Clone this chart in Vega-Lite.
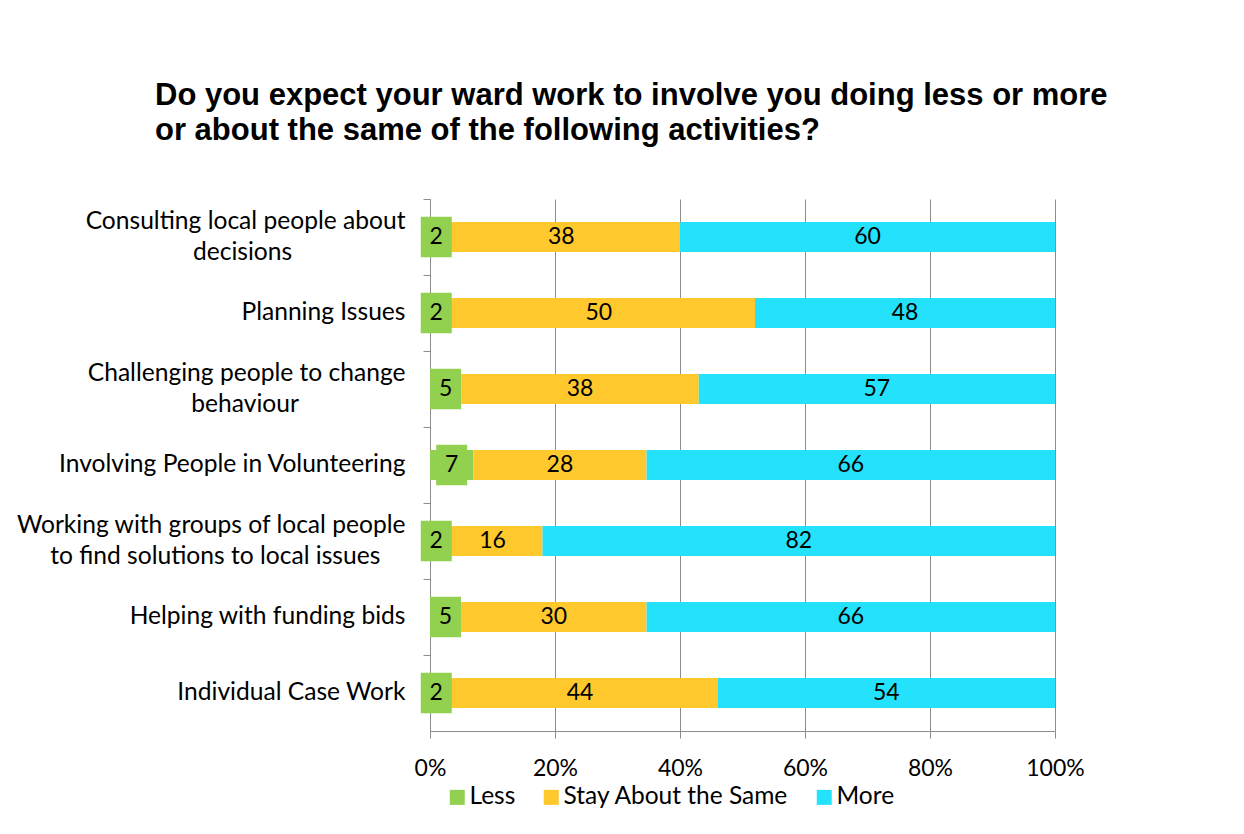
{
  "$schema": "https://vega.github.io/schema/vega-lite/v6.json",
  "width": 625,
  "height": 532,
  "autosize": {"type": "none"},
  "padding": {"left": 430, "top": 199, "right": 189, "bottom": 103},
  "background": "white",
  "title": {
    "text": ["Do you expect your ward work to involve you doing less or more", "or about the same of the following activities?"],
    "anchor": "start",
    "frame": "group",
    "dx": -275,
    "offset": 52,
    "font": "Liberation Sans",
    "fontSize": 31,
    "fontWeight": "bold",
    "lineHeight": 35,
    "color": "black"
  },
  "data": {
    "values": [
      {"activity": "Consulting local people about|decisions", "response": "Less", "order": 1, "value": 2},
      {"activity": "Consulting local people about|decisions", "response": "Stay About the Same", "order": 2, "value": 38},
      {"activity": "Consulting local people about|decisions", "response": "More", "order": 3, "value": 60},
      {"activity": "Planning Issues", "response": "Less", "order": 1, "value": 2},
      {"activity": "Planning Issues", "response": "Stay About the Same", "order": 2, "value": 50},
      {"activity": "Planning Issues", "response": "More", "order": 3, "value": 48},
      {"activity": "Challenging people to change|behaviour", "response": "Less", "order": 1, "value": 5},
      {"activity": "Challenging people to change|behaviour", "response": "Stay About the Same", "order": 2, "value": 38},
      {"activity": "Challenging people to change|behaviour", "response": "More", "order": 3, "value": 57},
      {"activity": "Involving People in Volunteering", "response": "Less", "order": 1, "value": 7},
      {"activity": "Involving People in Volunteering", "response": "Stay About the Same", "order": 2, "value": 28},
      {"activity": "Involving People in Volunteering", "response": "More", "order": 3, "value": 66},
      {"activity": "Working with groups of local people|to find solutions to local issues", "response": "Less", "order": 1, "value": 2},
      {"activity": "Working with groups of local people|to find solutions to local issues", "response": "Stay About the Same", "order": 2, "value": 16},
      {"activity": "Working with groups of local people|to find solutions to local issues", "response": "More", "order": 3, "value": 82},
      {"activity": "Helping with funding bids", "response": "Less", "order": 1, "value": 5},
      {"activity": "Helping with funding bids", "response": "Stay About the Same", "order": 2, "value": 30},
      {"activity": "Helping with funding bids", "response": "More", "order": 3, "value": 66},
      {"activity": "Individual Case Work", "response": "Less", "order": 1, "value": 2},
      {"activity": "Individual Case Work", "response": "Stay About the Same", "order": 2, "value": 44},
      {"activity": "Individual Case Work", "response": "More", "order": 3, "value": 54}
    ]
  },
  "transform": [
    {"stack": "value", "groupby": ["activity"], "sort": [{"field": "order", "order": "ascending"}], "offset": "normalize", "as": ["x0", "x1"]},
    {"calculate": "(datum.x0 + datum.x1) / 2", "as": "xm"}
  ],
  "encoding": {
    "y": {
      "field": "activity",
      "type": "nominal",
      "sort": [
        "Consulting local people about|decisions",
        "Planning Issues",
        "Challenging people to change|behaviour",
        "Involving People in Volunteering",
        "Working with groups of local people|to find solutions to local issues",
        "Helping with funding bids",
        "Individual Case Work"
      ],
      "scale": {"paddingInner": 0, "paddingOuter": 0},
      "axis": {
        "title": null,
        "labelExpr": "length(split(datum.label, '|')) > 1 ? [split(datum.label, '|')[0], pad(split(datum.label, '|')[1], length(split(datum.label, '|')[1]) + round(0.55 * ((length(split(datum.label, '|')[0]) + length(replace(split(datum.label, '|')[0], regexp('[ijlt f]', 'g'), ''))) - (length(split(datum.label, '|')[1]) + length(replace(split(datum.label, '|')[1], regexp('[ijlt f]', 'g'), ''))))), '\u00a0') + '\u200b'] : datum.label",
        "labelFont": "Lato",
        "labelFontSize": 24.6,
        "labelColor": "black",
        "labelLineHeight": 31,
        "labelPadding": 18,
        "labelLimit": 500,
        "labelOffset": {"condition": {"test": "indexof(datum.value, '|') >= 0", "value": -15}, "value": 0},
        "bandPosition": 0,
        "tickSize": 7,
        "tickColor": "#8c8c8c",
        "domainColor": "#8c8c8c",
        "grid": false
      }
    }
  },
  "layer": [
    {
      "mark": {"type": "bar", "height": {"band": 0.395}},
      "encoding": {
        "x": {
          "field": "x0",
          "type": "quantitative",
          "scale": {"domain": [0, 1], "nice": false},
          "axis": {
            "title": null,
            "format": ".0%",
            "values": [0, 0.2, 0.4, 0.6, 0.8, 1],
            "grid": true,
            "gridColor": "#8c8c8c",
            "domainColor": "#8c8c8c",
            "tickColor": "#8c8c8c",
            "tickSize": 7,
            "labelFont": "Lato",
            "labelFontSize": 23,
            "labelColor": "black",
            "labelPadding": 19,
            "labelFlush": false
          }
        },
        "x2": {"field": "x1"},
        "color": {
          "field": "response",
          "type": "nominal",
          "scale": {
            "domain": ["Less", "Stay About the Same", "More"],
            "range": ["#92d050", "#ffc82c", "#24e2fb"]
          },
          "legend": {
            "orient": "none",
            "direction": "horizontal",
            "legendX": 15,
            "legendY": 586,
            "title": null,
            "symbolType": "square",
            "symbolSize": 225,
            "symbolStrokeWidth": 0,
            "labelFont": "Lato",
            "labelFontSize": 24.5,
            "labelColor": "black",
            "labelLimit": 400,
            "labelOffset": 0,
            "columnPadding": 23
          }
        }
      }
    },
    {
      "transform": [{"filter": "datum.response == 'Less'"}],
      "mark": {
        "type": "point",
        "filled": true,
        "opacity": 1,
        "shape": "M-1,-1.3L1,-1.3L1,1.3L-1,1.3Z",
        "size": 961,
        "color": "#92d050"
      },
      "encoding": {
        "x": {"field": "xm", "type": "quantitative"}
      }
    },
    {
      "mark": {"type": "text", "font": "Lato", "fontSize": 23, "color": "black", "baseline": "middle", "align": "center"},
      "encoding": {
        "x": {"field": "xm", "type": "quantitative"},
        "text": {"field": "value", "type": "quantitative"}
      }
    }
  ],
  "config": {
    "view": {"stroke": null}
  }
}
